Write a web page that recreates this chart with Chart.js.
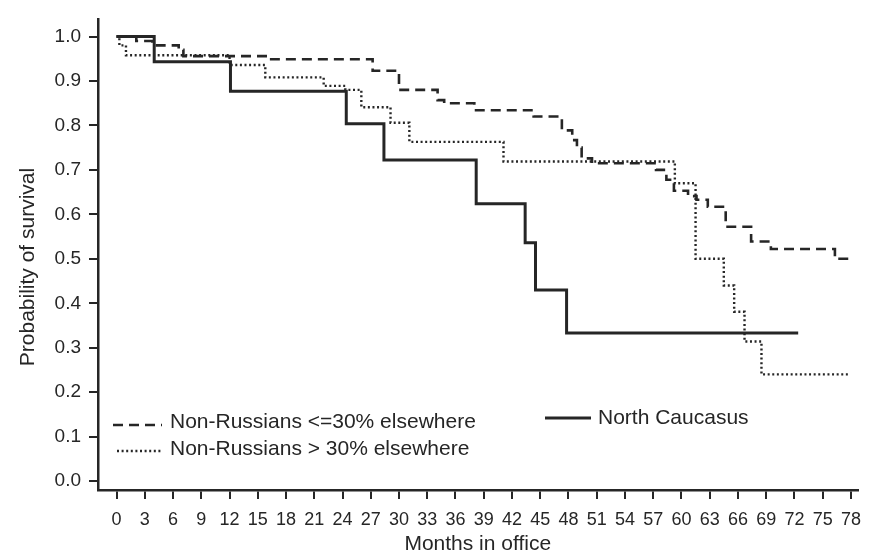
<!DOCTYPE html>
<html>
<head>
<meta charset="utf-8">
<script src="https://cdn.jsdelivr.net/npm/chart.js@4.4.1/dist/chart.umd.min.js"></script>
<style>
  html, body { margin: 0; padding: 0; background: #fff; }
</style>
</head>
<body>
<canvas id="km" width="871" height="555"></canvas>
<script>
// Kaplan-Meier steps: month of each step and survival after it
const lowMonths = [0, 2.1, 3.8, 6.6, 7.1, 16, 27.2, 30, 34.1, 34.8, 38, 44.3, 47.3, 48.4, 48.9, 49.4, 50.5, 57.3, 58.4, 59.2, 60.7, 61.6, 62.8, 64.7, 67.4, 69.5, 76.3, 78.1];
const lowSurvival = [1.0, 0.99, 0.98, 0.97, 0.956, 0.949, 0.923, 0.88, 0.857, 0.85, 0.834, 0.82, 0.789, 0.767, 0.75, 0.726, 0.715, 0.70, 0.678, 0.653, 0.641, 0.633, 0.617, 0.572, 0.539, 0.522, 0.50, 0.50];

const highMonths = [0, 0.3, 1.0, 12, 15.8, 22, 24.3, 26, 29.1, 31.1, 41.1, 59.3, 61.5, 64.5, 65.6, 66.7, 68.5, 77.7];
const highSurvival = [1.0, 0.98, 0.958, 0.936, 0.908, 0.889, 0.88, 0.841, 0.806, 0.763, 0.719, 0.67, 0.50, 0.44, 0.381, 0.314, 0.24, 0.24];

const caucasusMonths = [0, 4, 12.1, 24.4, 28.4, 38.2, 43.4, 44.5, 47.8, 72.4];
const caucasusSurvival = [1.0, 0.943, 0.877, 0.804, 0.722, 0.624, 0.536, 0.43, 0.333, 0.333];

const seriesNames = ["Non-Russians <=30% elsewhere", "Non-Russians > 30% elsewhere", "North Caucasus"];

const xTicks = [0, 3, 6, 9, 12, 15, 18, 21, 24, 27, 30, 33, 36, 39, 42, 45, 48, 51, 54, 57, 60, 63, 66, 69, 72, 75, 78];
const yTicks = [0, 0.1, 0.2, 0.3, 0.4, 0.5, 0.6, 0.7, 0.8, 0.9, 1.0];

const xTitle = "Months in office";
const yTitle = "Probability of survival";

const ink = "#262626";
const face = "'Liberation Sans', Arial, sans-serif";

const toPoints = (xs, ys) => xs.map((x, i) => ({ x, y: ys[i] }));

// legend is drawn by hand: two rows bottom-left, one entry to the right
const legendSpots = [
  { dataset: 0, x1: 113, x2: 162, y: 425, tx: 170, ty: 422 },
  { dataset: 1, x1: 117, x2: 162, y: 451, tx: 170, ty: 449 },
  { dataset: 2, x1: 545, x2: 591, y: 418, tx: 598, ty: 418 }
];

const cornerLegend = {
  id: "cornerLegend",
  afterDraw(chart) {
    const ctx = chart.ctx;
    legendSpots.forEach(spot => {
      const ds = chart.data.datasets[spot.dataset];
      ctx.save();
      ctx.strokeStyle = ds.borderColor;
      ctx.lineWidth = ds.borderWidth;
      ctx.setLineDash(ds.borderDash || []);
      ctx.beginPath();
      ctx.moveTo(spot.x1, spot.y);
      ctx.lineTo(spot.x2, spot.y);
      ctx.stroke();
      ctx.fillStyle = ink;
      ctx.font = "21px " + face;
      ctx.textBaseline = "middle";
      ctx.fillText(ds.label, spot.tx, spot.ty);
      ctx.restore();
    });

    // y title sits a little below the middle of the axis in the original
    ctx.save();
    ctx.translate(28, 267);
    ctx.rotate(-Math.PI / 2);
    ctx.fillStyle = ink;
    ctx.font = "21px " + face;
    ctx.textAlign = "center";
    ctx.textBaseline = "middle";
    ctx.fillText(yTitle, 0, 0);
    ctx.restore();
  }
};

new Chart(document.getElementById("km"), {
  type: "line",
  data: {
    datasets: [
      {
        label: seriesNames[0],
        data: toPoints(lowMonths, lowSurvival),
        borderColor: ink,
        borderWidth: 2.6,
        borderDash: [10, 6],
        stepped: true,
        pointRadius: 0,
        fill: false
      },
      {
        label: seriesNames[1],
        data: toPoints(highMonths, highSurvival),
        borderColor: ink,
        borderWidth: 2.4,
        borderDash: [2, 2.6],
        stepped: true,
        pointRadius: 0,
        fill: false
      },
      {
        label: seriesNames[2],
        data: toPoints(caucasusMonths, caucasusSurvival),
        borderColor: ink,
        borderWidth: 3,
        stepped: true,
        pointRadius: 0,
        fill: false
      }
    ]
  },
  options: {
    responsive: false,
    animation: false,
    devicePixelRatio: 1,
    layout: { padding: { left: 0, right: 9, top: 15, bottom: 0 } },
    plugins: { legend: { display: false }, tooltip: { enabled: false } },
    scales: {
      x: {
        type: "linear",
        min: -1.97,
        max: 78.7,
        afterBuildTicks: s => { s.ticks = xTicks.map(v => ({ value: v })); },
        afterFit: s => { s.height = 65; },
        grid: { drawOnChartArea: false, drawTicks: true, tickLength: 9, color: ink, tickColor: ink, lineWidth: 2 },
        border: { display: true, color: ink, width: 2.5 },
        ticks: {
          color: ink,
          font: { family: face, size: 18 },
          padding: 10,
          maxRotation: 0,
          autoSkip: false,
          callback: v => v
        },
        title: {
          display: true,
          text: xTitle,
          color: ink,
          font: { family: face, size: 21, lineHeight: 1 },
          padding: { top: 0, bottom: 0 }
        }
      },
      y: {
        type: "linear",
        min: -0.02,
        max: 1.0385,
        afterBuildTicks: s => { s.ticks = yTicks.map(v => ({ value: v })); },
        afterFit: s => { s.width = 98; },
        grid: { drawOnChartArea: false, drawTicks: true, tickLength: 9, color: ink, tickColor: ink, lineWidth: 2 },
        border: { display: true, color: ink, width: 2.5 },
        ticks: {
          color: ink,
          font: { family: face, size: 19 },
          padding: 8,
          callback: v => v.toFixed(1)
        },
        title: { display: false }
      }
    }
  },
  plugins: [cornerLegend]
});
</script>
</body>
</html>
